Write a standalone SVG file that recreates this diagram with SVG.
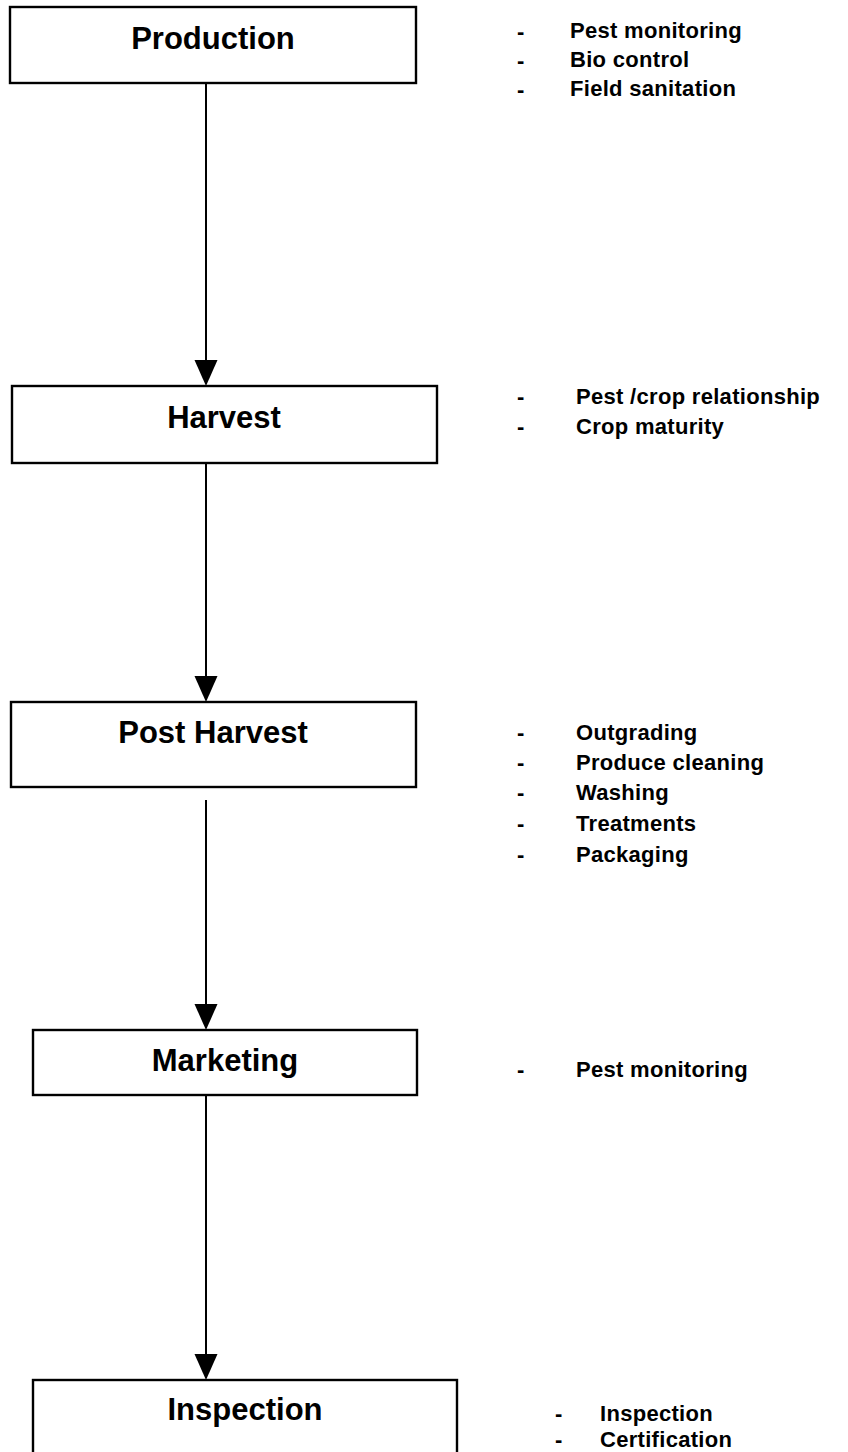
<svg xmlns="http://www.w3.org/2000/svg" width="848" height="1452" viewBox="0 0 848 1452">
  <style>
    .box { fill: #ffffff; stroke: #000000; stroke-width: 2.4; }
    .title { font-family: "Liberation Sans", Arial, sans-serif; font-weight: bold; font-size: 31px; fill: #000; text-anchor: middle; }
    .item { font-family: "Liberation Sans", Arial, sans-serif; font-weight: bold; font-size: 22px; fill: #000; letter-spacing: 0.3px; }
    .conn { stroke: #000; stroke-width: 2; fill: none; }
    .head { fill: #000; stroke: none; }
  </style>
  <defs>
    <path id="ah" d="M-11.5,-26 L11.5,-26 L0,0 Z"/>
  </defs>
  <rect width="848" height="1452" fill="#ffffff"/>

  <g id="connectors">
    <line class="conn" x1="206" y1="83" x2="206" y2="362"/>
    <use href="#ah" class="head" x="206" y="386"/>
    <line class="conn" x1="206" y1="463" x2="206" y2="678"/>
    <use href="#ah" class="head" x="206" y="702"/>
    <line class="conn" x1="206" y1="800" x2="206" y2="1006"/>
    <use href="#ah" class="head" x="206" y="1030"/>
    <line class="conn" x1="206" y1="1095" x2="206" y2="1356"/>
    <use href="#ah" class="head" x="206" y="1380"/>
  </g>

  <g id="production">
    <rect class="box" x="10" y="7" width="406" height="76"/>
    <text class="title" x="213" y="49">Production</text>
    <text class="item" x="517" y="39">-</text>
    <text class="item" x="570" y="38">Pest monitoring</text>
    <text class="item" x="517" y="68">-</text>
    <text class="item" x="570" y="67">Bio control</text>
    <text class="item" x="517" y="97">-</text>
    <text class="item" x="570" y="96">Field sanitation</text>
  </g>

  <g id="harvest">
    <rect class="box" x="12" y="386" width="425" height="77"/>
    <text class="title" x="224" y="428">Harvest</text>
    <text class="item" x="517" y="404">-</text>
    <text class="item" x="576" y="404">Pest /crop relationship</text>
    <text class="item" x="517" y="434">-</text>
    <text class="item" x="576" y="434">Crop maturity</text>
  </g>

  <g id="post-harvest">
    <rect class="box" x="11" y="702" width="405" height="85"/>
    <text class="title" x="213" y="743">Post Harvest</text>
    <text class="item" x="517" y="740">-</text>
    <text class="item" x="576" y="740">Outgrading</text>
    <text class="item" x="517" y="770">-</text>
    <text class="item" x="576" y="770">Produce cleaning</text>
    <text class="item" x="517" y="800">-</text>
    <text class="item" x="576" y="800">Washing</text>
    <text class="item" x="517" y="831">-</text>
    <text class="item" x="576" y="831">Treatments</text>
    <text class="item" x="517" y="862">-</text>
    <text class="item" x="576" y="862">Packaging</text>
  </g>

  <g id="marketing">
    <rect class="box" x="33" y="1030" width="384" height="65"/>
    <text class="title" x="225" y="1071">Marketing</text>
    <text class="item" x="517" y="1077">-</text>
    <text class="item" x="576" y="1077">Pest monitoring</text>
  </g>

  <g id="inspection">
    <rect class="box" x="33" y="1380" width="424" height="90"/>
    <text class="title" x="245" y="1420">Inspection</text>
    <text class="item" x="555" y="1421">-</text>
    <text class="item" x="600" y="1421">Inspection</text>
    <text class="item" x="555" y="1447">-</text>
    <text class="item" x="600" y="1447">Certification</text>
  </g>
</svg>
